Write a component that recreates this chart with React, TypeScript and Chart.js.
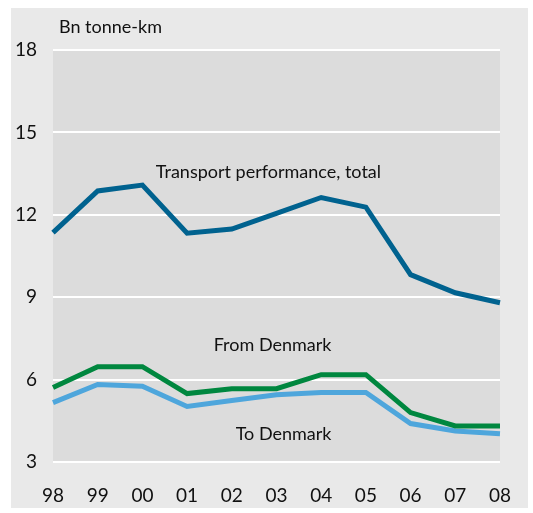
import React, { useEffect, useRef } from "react";
import { Chart, registerables } from "chart.js";

Chart.register(...registerables);

const years = ["98", "99", "00", "01", "02", "03", "04", "05", "06", "07", "08"];
const totalPerformance = [11.35, 12.87, 13.08, 11.33, 11.48, 12.05, 12.63, 12.28, 9.82, 9.16, 8.8];
const fromDenmark = [5.71, 6.47, 6.47, 5.49, 5.67, 5.67, 6.18, 6.18, 4.8, 4.31, 4.31];
const toDenmark = [5.16, 5.82, 5.76, 5.02, 5.24, 5.45, 5.53, 5.53, 4.4, 4.13, 4.03];
const yTicks = [3, 6, 9, 12, 15, 18];
const unitLabel = "Bn tonne-km";
const seriesLabels = ["Transport performance, total", "From Denmark", "To Denmark"];

const FONT = "Lato, 'Open Sans', sans-serif";

const bgPlugin = {
  id: "bgPlugin",
  beforeDraw(chart: any) {
    const { ctx, chartArea } = chart;
    ctx.save();
    ctx.fillStyle = "#e9e9e9";
    ctx.fillRect(11, 8, 517, 500);
    ctx.fillStyle = "#dcdcdc";
    ctx.fillRect(chartArea.left, chartArea.top, chartArea.right - chartArea.left, chartArea.bottom - chartArea.top);
    ctx.restore();
  },
  afterDatasetsDraw(chart: any) {
    const { ctx, chartArea, scales } = chart;
    const x = scales.x;
    const y = scales.y;
    ctx.save();
    ctx.fillStyle = "#111";
    ctx.font = `18px ${FONT}`;
    ctx.textBaseline = "middle";
    ctx.textAlign = "left";
    ctx.fillText(unitLabel, chartArea.left + 6, chartArea.top - 23);
    ctx.textAlign = "center";
    ctx.fillText(seriesLabels[0], x.getPixelForValue(4.82), y.getPixelForValue(13.56));
    ctx.textAlign = "right";
    ctx.fillText(seriesLabels[1], x.getPixelForValue(6.23), y.getPixelForValue(7.27));
    ctx.fillText(seriesLabels[2], x.getPixelForValue(6.23), y.getPixelForValue(4.0));
    ctx.restore();
  },
};

export default function App() {
  const ref = useRef<HTMLCanvasElement>(null);
  useEffect(() => {
    if (!ref.current) return;
    const mk = (label: string, data: number[], color: string) => ({
      label,
      data,
      borderColor: color,
      backgroundColor: color,
      borderWidth: 5,
      pointRadius: 0,
      tension: 0,
      fill: false,
    });
    const chart = new Chart(ref.current, {
      type: "line",
      data: {
        labels: years,
        datasets: [
          mk(seriesLabels[0], totalPerformance, "#00628f"),
          mk(seriesLabels[1], fromDenmark, "#00873f"),
          mk(seriesLabels[2], toDenmark, "#4ea6dc"),
        ],
      },
      options: {
        animation: false,
        responsive: false,
        maintainAspectRatio: false,
        layout: { padding: { top: 50, right: 26, left: 0, bottom: 0 } },
        plugins: { legend: { display: false }, tooltip: { enabled: false } },
        scales: {
          x: {
            offset: false,
            grid: { display: false, drawTicks: false },
            border: { display: false },
            ticks: { color: "#111", font: { family: FONT, size: 19 }, padding: 22, maxRotation: 0, autoSkip: false },
            afterFit(scale: any) {
              scale.height = 51;
            },
          },
          y: {
            min: 3,
            max: 18,
            afterBuildTicks(scale: any) {
              scale.ticks = yTicks.map((v) => ({ value: v }));
            },
            grid: { color: "#ffffff", lineWidth: 2, drawTicks: false },
            border: { display: false },
            ticks: { color: "#111", font: { family: FONT, size: 19 }, padding: 16 },
            afterFit(scale: any) {
              scale.width = 53;
            },
          },
        },
      },
      plugins: [bgPlugin],
    });
    return () => chart.destroy();
  }, []);
  return (
    <div style={{ position: "fixed", left: 0, top: 0, width: 533, height: 513, background: "#fff" }}>
      <canvas ref={ref} width={533} height={513} style={{ display: "block" }} />
    </div>
  );
}
